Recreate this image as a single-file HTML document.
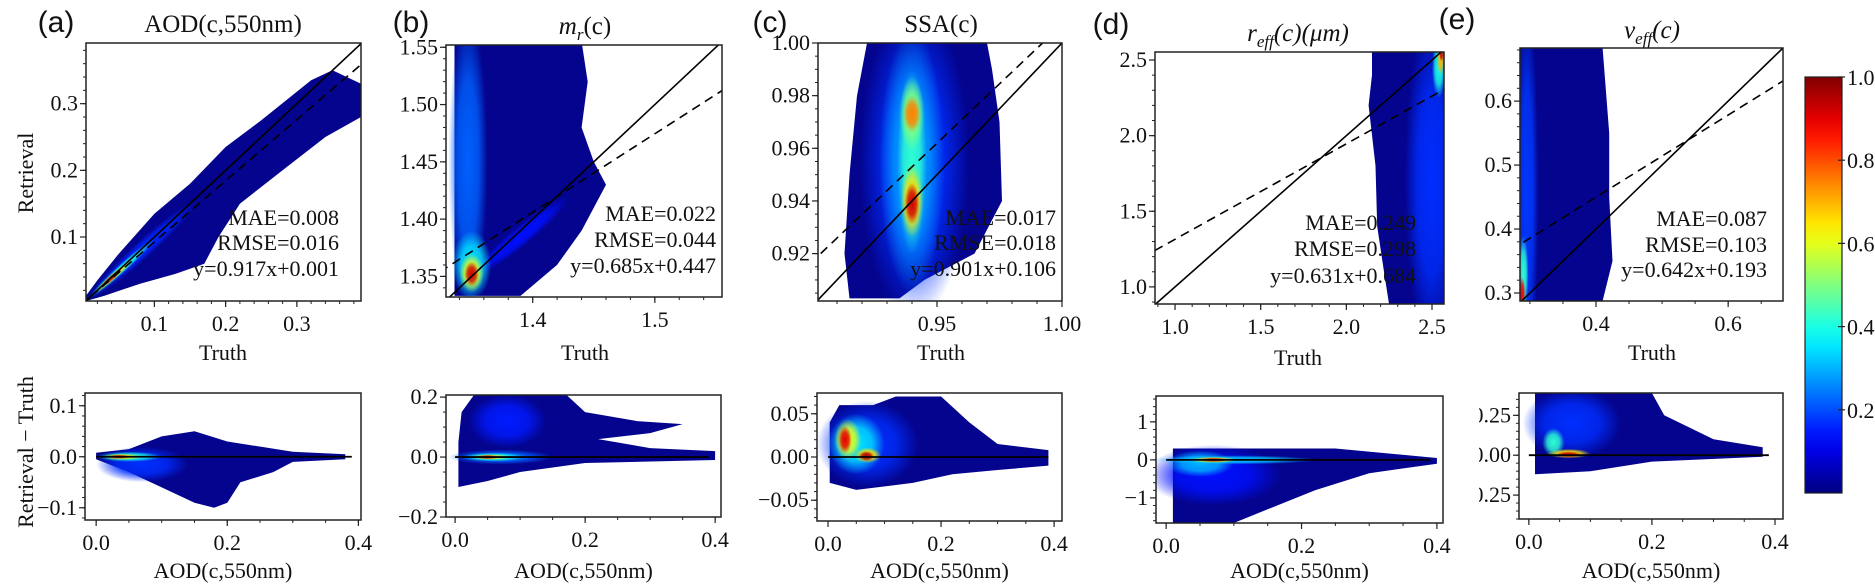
<!DOCTYPE html>
<html><head><meta charset="utf-8">
<style>
html,body{margin:0;padding:0;background:#fff;width:1875px;height:588px;overflow:hidden;}
svg{display:block;}
text{font-family:"Liberation Serif",serif;fill:#111;}
.lab{font-family:"Liberation Sans",sans-serif;}
</style></head>
<body>
<svg id="fig" width="1875" height="588" viewBox="0 0 1875 588" xmlns="http://www.w3.org/2000/svg">
<defs id="defs"></defs>
</svg>
<script>
// ---------- DATA ----------
const fitSlopes = [0.917, 0.685, 0.901, 0.631, 0.642];
const fitIntercepts = [0.001, 0.447, 0.106, 0.684, 0.193];
const maeValues = ["0.008","0.022","0.017","0.249","0.087"];
const rmseValues = ["0.016","0.044","0.018","0.298","0.103"];
const panelLetters = ["(a)","(b)","(c)","(d)","(e)"];

const topXTicks = [[0.1,0.2,0.3],[1.4,1.5],[0.95,1.00],[1.0,1.5,2.0,2.5],[0.4,0.6]];
const topXTickLabels = [["0.1","0.2","0.3"],["1.4","1.5"],["0.95","1.00"],["1.0","1.5","2.0","2.5"],["0.4","0.6"]];
const topYTicks = [[0.1,0.2,0.3],[1.35,1.40,1.45,1.50,1.55],[0.92,0.94,0.96,0.98,1.00],[1.0,1.5,2.0,2.5],[0.3,0.4,0.5,0.6]];
const topYTickLabels = [["0.1","0.2","0.3"],["1.35","1.40","1.45","1.50","1.55"],["0.92","0.94","0.96","0.98","1.00"],["1.0","1.5","2.0","2.5"],["0.3","0.4","0.5","0.6"]];
const botXTicks = [0.0,0.2,0.4];
const botXTickLabels = ["0.0","0.2","0.4"];
const botYTicks = [[-0.1,0,0.1],[-0.2,0,0.2],[-0.05,0,0.05],[-1,0,1],[-0.25,0,0.25]];
const botYTickLabels = [["−0.1","0.0","0.1"],["−0.2","0.0","0.2"],["−0.05","0.00","0.05"],["−1","0","1"],["0.25","0.00","0.25"]];

const topRegions = [
 [[0.004,0.004],[0.03,0.012],[0.08,0.03],[0.13,0.045],[0.17,0.06],[0.19,0.10],[0.22,0.15],[0.28,0.2],[0.34,0.25],[0.39,0.28],[0.39,0.33],[0.35,0.35],[0.32,0.335],[0.25,0.275],[0.2,0.235],[0.15,0.18],[0.1,0.135],[0.05,0.075],[0.02,0.035],[0.004,0.012]],
 [[1.336,1.333],[1.39,1.333],[1.42,1.36],[1.44,1.39],[1.46,1.43],[1.45,1.45],[1.44,1.48],[1.445,1.52],[1.44,1.555],[1.336,1.555]],
 [[0.915,0.903],[0.935,0.903],[0.945,0.91],[0.965,0.92],[0.976,0.94],[0.975,0.97],[0.972,0.99],[0.97,1.0],[0.922,1.0],[0.918,0.98],[0.915,0.95],[0.913,0.92]],
 [[2.15,2.56],[2.58,2.56],[2.58,0.88],[2.25,0.88],[2.22,1.1],[2.18,1.4],[2.17,1.8],[2.13,2.2],[2.15,2.4]],
 [[0.285,0.2875],[0.41,0.2875],[0.425,0.35],[0.42,0.45],[0.42,0.55],[0.41,0.683],[0.285,0.683]]
];
const topGlows = [
 [],
 [[1.347,1.45,0.016,0.13,0.22],[1.35,1.36,0.016,0.03,0.35],[1.35,1.353,0.01,0.017,0.6],[1.35,1.352,0.006,0.011,0.92]],
 [[0.941,0.955,0.022,0.06,0.17],[0.94,0.955,0.013,0.05,0.28],[0.94,0.955,0.006,0.035,0.42],[0.94,0.973,0.005,0.014,0.5],[0.94,0.973,0.0035,0.007,0.75],[0.94,0.94,0.0045,0.014,0.65],[0.94,0.939,0.003,0.008,0.92]],
 [[2.5,1.7,0.16,1.1,0.17],[2.54,2.45,0.04,0.2,0.4],[2.55,2.5,0.02,0.1,0.7],[2.555,2.54,0.012,0.05,0.92]],
 [[0.295,0.45,0.018,0.3,0.18],[0.29,0.33,0.008,0.06,0.42],[0.288,0.3,0.005,0.025,0.88]]
];
const topStreaks = [
 [[0.006,0.006,0.16,0.155,18,0.16],[0.008,0.008,0.1,0.097,9,0.4],[0.015,0.015,0.07,0.067,6,0.65],[0.025,0.025,0.055,0.053,5,0.92]],
 [[1.35,1.35,1.43,1.42,20,0.14]],
 [],[],[]
];
const botRegions = [
 [[0.0,-0.005],[0.05,-0.03],[0.1,-0.06],[0.15,-0.09],[0.18,-0.1],[0.2,-0.09],[0.22,-0.05],[0.27,-0.03],[0.3,-0.01],[0.38,-0.005],[0.38,0.005],[0.3,0.01],[0.2,0.03],[0.15,0.05],[0.1,0.04],[0.05,0.015],[0.0,0.008]],
 [[0.005,-0.1],[0.05,-0.08],[0.1,-0.05],[0.2,-0.02],[0.4,-0.01],[0.4,0.02],[0.3,0.03],[0.22,0.06],[0.3,0.08],[0.35,0.11],[0.28,0.12],[0.2,0.15],[0.17,0.21],[0.03,0.21],[0.01,0.15],[0.005,0.05]],
 [[0.003,-0.03],[0.05,-0.038],[0.15,-0.03],[0.22,-0.02],[0.3,-0.015],[0.39,-0.01],[0.39,0.008],[0.3,0.015],[0.25,0.04],[0.2,0.07],[0.12,0.07],[0.08,0.06],[0.02,0.06],[0.003,0.04]],
 [[0.01,0.3],[0.25,0.3],[0.4,0.05],[0.4,-0.1],[0.3,-0.35],[0.22,-0.8],[0.15,-1.3],[0.1,-1.66],[0.01,-1.66]],
 [[0.01,-0.12],[0.1,-0.1],[0.2,-0.04],[0.38,-0.01],[0.38,0.05],[0.3,0.1],[0.22,0.25],[0.2,0.39],[0.01,0.39]]
];
const botGlows = [
 [[0.07,-0.015,0.07,0.035,0.17],[0.05,0,0.05,0.01,0.4],[0.04,0,0.03,0.006,0.65],[0.035,0,0.018,0.004,0.92]],
 [[0.08,0.12,0.06,0.09,0.15],[0.07,0,0.08,0.025,0.22],[0.06,0,0.05,0.015,0.4],[0.055,0,0.03,0.009,0.65],[0.05,0,0.018,0.007,0.92]],
 [[0.07,0.015,0.09,0.05,0.17],[0.05,0.015,0.05,0.035,0.35],[0.035,0.02,0.024,0.024,0.6],[0.03,0.02,0.012,0.016,0.9],[0.07,0.002,0.024,0.009,0.65],[0.068,0.001,0.014,0.006,0.95]],
 [[0.07,-0.4,0.1,0.8,0.14],[0.05,-0.1,0.05,0.35,0.3],[0.1,0,0.12,0.12,0.32],[0.07,0,0.035,0.08,0.65],[0.07,0,0.022,0.055,0.92]],
 [[0.07,0.2,0.08,0.22,0.17],[0.04,0.08,0.018,0.09,0.42],[0.065,0.01,0.035,0.03,0.65],[0.065,0.005,0.02,0.018,0.92]]
];
const colorbarTicks = [0.2,0.4,0.6,0.8,1.0];
const colorbarTickLabels = ["0.2","0.4","0.6","0.8","1.0"];

// ---------- LAYOUT ----------
const topLayout = [
 {x0:86,x1:361,y0:43,y1:301,xmin:0.004,xmax:0.39,ymin:0.004,ymax:0.391,xminor:0.02,yminor:0.02,statX:339,statY:[217,242,268],titleX:223,titleY:32,letX:56,letY:32},
 {x0:446,x1:722,y0:45,y1:297,xmin:1.329,xmax:1.555,ymin:1.332,ymax:1.552,xminor:0.02,yminor:0.01,statX:716,statY:[213,239,265],titleX:585,titleY:34,letX:411,letY:32},
 {x0:818,x1:1062,y0:43,y1:301,xmin:0.9024,xmax:1.0,ymin:0.902,ymax:1.0,xminor:0.01,yminor:0.005,statX:1056,statY:[217,242,268],titleX:941,titleY:32,letX:770,letY:32},
 {x0:1155,x1:1444,y0:52,y1:304,xmin:0.883,xmax:2.57,ymin:0.887,ymax:2.553,xminor:0.1,yminor:0.1,statX:1416,statY:[222,248,275],titleX:1298,titleY:41,letX:1111,letY:34},
 {x0:1520,x1:1783,y0:48,y1:301,xmin:0.285,xmax:0.683,ymin:0.2875,ymax:0.683,xminor:0.05,yminor:0.02,statX:1767,statY:[218,244,269],titleX:1652,titleY:38,letX:1457,letY:29}
];
const botLayout = [
 {x0:85,x1:361,y0:393,y1:520,xmin:-0.017,xmax:0.404,ymin:-0.124,ymax:0.125,yminor:0.02},
 {x0:446,x1:721,y0:395,y1:517,xmin:-0.014,xmax:0.409,ymin:-0.2,ymax:0.207,yminor:0.05},
 {x0:817,x1:1062,y0:393,y1:521,xmin:-0.0195,xmax:0.414,ymin:-0.074,ymax:0.074,yminor:0.01},
 {x0:1156,x1:1443,y0:396,y1:523,xmin:-0.015,xmax:0.409,ymin:-1.66,ymax:1.68,yminor:0.2},
 {x0:1519,x1:1783,y0:393,y1:519,xmin:-0.016,xmax:0.413,ymin:-0.4,ymax:0.39,yminor:0.05}
];

const NS="http://www.w3.org/2000/svg";
const svg=document.getElementById('fig');
const defs=document.getElementById('defs');
function mk(tag,attrs,parent){const e=document.createElementNS(NS,tag);for(const k in attrs)e.setAttribute(k,attrs[k]);(parent||svg).appendChild(e);return e;}
function jet(v){
  function c(x){return Math.max(0,Math.min(1,x));}
  const r=c(1.5-Math.abs(4*v-3)), g=c(1.5-Math.abs(4*v-2)), b=c(1.5-Math.abs(4*v-1));
  return `rgb(${Math.round(r*255)},${Math.round(g*255)},${Math.round(b*255)})`;
}
let gid=0;
function gradFor(level){
  const id='g'+(gid++);
  const g=mk('radialGradient',{id:id},defs);
  mk('stop',{offset:'0','stop-color':jet(level),'stop-opacity':'1'},g);
  mk('stop',{offset:'0.55','stop-color':jet(level),'stop-opacity':'0.8'},g);
  mk('stop',{offset:'1','stop-color':jet(level),'stop-opacity':'0'},g);
  return id;
}
function scales(L){
  return {sx:v=>L.x0+(v-L.xmin)/(L.xmax-L.xmin)*(L.x1-L.x0), sy:v=>L.y1-(v-L.ymin)/(L.ymax-L.ymin)*(L.y1-L.y0)};
}
function txt(x,y,s,attrs,parent){const t=mk('text',Object.assign({x:x,y:y},attrs||{}),parent);t.textContent=s;return t;}

function drawDensity(g,L,S,region,glows,streaks){
  const pts=region.map(p=>S.sx(p[0]).toFixed(1)+','+S.sy(p[1]).toFixed(1)).join(' ');
  const poly=mk('polygon',{points:pts,fill:'#04048e'},g);
  
  
  for(const s of streaks){
    const xa=S.sx(s[0]),ya=S.sy(s[1]),xb=S.sx(s[2]),yb=S.sy(s[3]);
    const cx=(xa+xb)/2,cy=(ya+yb)/2,len=Math.hypot(xb-xa,yb-ya);
    const ang=Math.atan2(yb-ya,xb-xa)*180/Math.PI;
    const e=mk('ellipse',{cx:cx,cy:cy,rx:len/2,ry:s[4]/2,fill:'url(#'+gradFor(s[5])+')',transform:`rotate(${ang} ${cx} ${cy})`},g);
    
    
  }
  for(const q of glows){
    const cx=S.sx(q[0]),cy=S.sy(q[1]);
    const rx=Math.abs(S.sx(q[0]+q[2])-cx), ry=Math.abs(S.sy(q[1]+q[3])-cy);
    const e=mk('ellipse',{cx:cx,cy:cy,rx:rx,ry:ry,fill:'url(#'+gradFor(q[4])+')'},g);
    
    
  }
}
function clipFor(L){
  const id='c'+(gid++);
  const cp=mk('clipPath',{id:id},defs);
  mk('rect',{x:L.x0,y:L.y0,width:L.x1-L.x0,height:L.y1-L.y0},cp);
  return id;
}
function axes(g,L,S,xt,xl,yt,yl,xminor,yminor){
  for(let v=Math.ceil(L.xmin/xminor)*xminor; v<=L.xmax+1e-9; v+=xminor){
    const x=S.sx(v); mk('line',{x1:x,x2:x,y1:L.y1,y2:L.y1+3,stroke:'#222','stroke-width':1},g);
  }
  for(let v=Math.ceil(L.ymin/yminor)*yminor; v<=L.ymax+1e-9; v+=yminor){
    const y=S.sy(v); mk('line',{x1:L.x0-3,x2:L.x0,y1:y,y2:y,stroke:'#222','stroke-width':1},g);
  }
  xt.forEach((v,i)=>{
    const x=S.sx(v);
    mk('line',{x1:x,x2:x,y1:L.y1,y2:L.y1+6,stroke:'#222','stroke-width':1.2},g);
    const t=txt(x,L.y1+30,xl[i],{'font-size':22,'text-anchor':'middle'},g);
    
    
  });
  yt.forEach((v,i)=>{
    const y=S.sy(v);
    mk('line',{x1:L.x0-6,x2:L.x0,y1:y,y2:y,stroke:'#222','stroke-width':1.2},g);
    const t=txt(L.x0-8,y+7,yl[i],{'font-size':22,'text-anchor':'end'},g);
    
    
  });
}

function titleText(i,L,g){
  const t=mk('text',{x:L.titleX,y:L.titleY,'font-size':25,'text-anchor':'middle'},g);
  
  
  const parts={
   0:[['AOD(c,550nm)','',false]],
   1:[['m','',true],['r','sub',true],['(c)','',false]],
   2:[['SSA(c)','',false]],
   3:[['r','',true],['eff','sub',true],['(c)(μm)','',true]],
   4:[['v','',true],['eff','sub',true],['(c)','',true]]
  }[i];
  let wasSub=false;
  for(const p of parts){
    const ts=mk('tspan',{},t); ts.textContent=p[0];
    if(p[2]) ts.setAttribute('font-style','italic');
    if(p[1]==='sub'){ts.setAttribute('dy','6');ts.setAttribute('font-size','17');wasSub=true;}
    else if(wasSub){ts.setAttribute('dy','-6');wasSub=false;}
  }
}

for(let i=0;i<5;i++){
  const L=topLayout[i], S=scales(L);
  const g=mk('g',{});
  
  
  const cg=mk('g',{'clip-path':'url(#'+clipFor(L)+')'},g);
  drawDensity(cg,L,S,topRegions[i],topGlows[i],topStreaks[i]);
  const lo=Math.max(L.xmin,L.ymin)-1, hi=Math.max(L.xmax,L.ymax)+1;
  const one=mk('line',{x1:S.sx(lo),y1:S.sy(lo),x2:S.sx(hi),y2:S.sy(hi),stroke:'#000','stroke-width':1.6},cg);
  
  
  const fit=mk('line',{x1:S.sx(lo),y1:S.sy(fitSlopes[i]*lo+fitIntercepts[i]),x2:S.sx(hi),y2:S.sy(fitSlopes[i]*hi+fitIntercepts[i]),stroke:'#000','stroke-width':1.6,'stroke-dasharray':'9,6'},cg);
  
  
  const lines=['MAE='+maeValues[i],'RMSE='+rmseValues[i],'y='+fitSlopes[i].toFixed(3)+'x+'+fitIntercepts[i].toFixed(3)];
  lines.forEach((s,k)=>{
    const t=txt(L.statX,L.statY[k]+8,s,{'font-size':22,'text-anchor':'end'},g);
    
    
  });
  const box=mk('rect',{x:L.x0,y:L.y0,width:L.x1-L.x0,height:L.y1-L.y0,fill:'none',stroke:'#222','stroke-width':1.5},g);
  
  
  axes(g,L,S,topXTicks[i],topXTickLabels[i],topYTicks[i],topYTickLabels[i],L.xminor,L.yminor);
  const xl=txt(L.titleX,(i===3?357:352)+8,'Truth',{'font-size':22,'text-anchor':'middle'},g);
  
  
  titleText(i,L,g);
  const let_=txt(L.letX,L.letY,panelLetters[i],{'font-size':30,'text-anchor':'middle',class:'lab'},g);
  
  
}
for(let i=0;i<5;i++){
  const L=botLayout[i], S=scales(L);
  const g=mk('g',{});
  
  
  const cg=mk('g',{'clip-path':'url(#'+clipFor(L)+')'},g);
  drawDensity(cg,L,S,botRegions[i],botGlows[i],[]);
  const z=mk('line',{x1:S.sx(0),y1:S.sy(0),x2:S.sx(0.39),y2:S.sy(0),stroke:'#000','stroke-width':1.8},cg);
  
  
  const box=mk('rect',{x:L.x0,y:L.y0,width:L.x1-L.x0,height:L.y1-L.y0,fill:'none',stroke:'#222','stroke-width':1.5},g);
  
  
  axes(g,L,S,botXTicks,botXTickLabels,botYTicks[i],botYTickLabels[i],0.05,L.yminor);
  const xl=txt((L.x0+L.x1)/2,578,'AOD(c,550nm)',{'font-size':22,'text-anchor':'middle'},g);
  
  
}
const cover=mk('rect',{x:1447,y:395,width:32,height:120,fill:'#fff'});



const yt1=txt(0,0,'Retrieval',{'font-size':22,'text-anchor':'middle',transform:'translate(33,173) rotate(-90)'});


const yt2=txt(0,0,'Retrieval − Truth',{'font-size':22,'text-anchor':'middle',transform:'translate(33,452) rotate(-90)'});



const cb={x0:1805,x1:1842,y0:77,y1:493};
const lg=mk('linearGradient',{id:'jetgrad',x1:'0',y1:'1',x2:'0',y2:'0'},defs);
for(let k=0;k<=20;k++){mk('stop',{offset:(k/20).toString(),'stop-color':jet(k/20)},lg);}
const cbg=mk('g',{});


mk('rect',{x:cb.x0,y:cb.y0,width:cb.x1-cb.x0,height:cb.y1-cb.y0,fill:'url(#jetgrad)',stroke:'#222','stroke-width':1.2},cbg);
colorbarTicks.forEach((v,i)=>{
  const y=cb.y1-v*(cb.y1-cb.y0);
  mk('line',{x1:cb.x1-4,x2:cb.x1+3,y1:y,y2:y,stroke:'#222','stroke-width':1.2},cbg);
  const t=txt(cb.x1+5,y+8,colorbarTickLabels[i],{'font-size':22},cbg);
  
  
});
</script>
</body></html>
